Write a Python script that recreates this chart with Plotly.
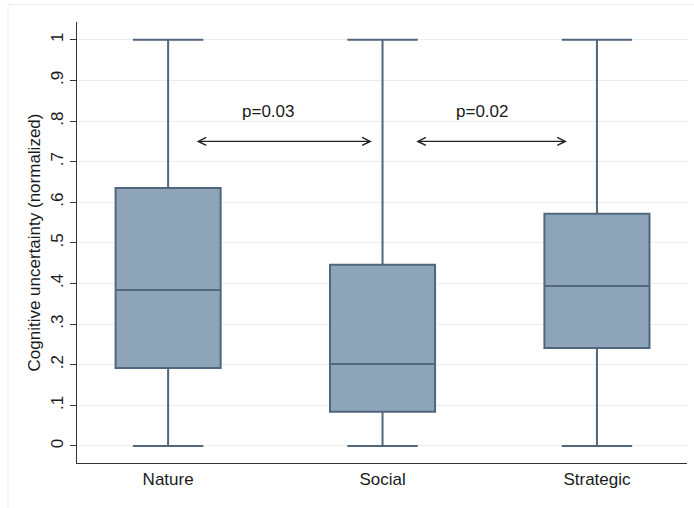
import plotly.graph_objects as go

# Box-plot summary statistics per task type
categories = ["Nature", "Social", "Strategic"]
lower_whisker = [0.0, 0.0, 0.0]
q1 = [0.192, 0.084, 0.241]
median = [0.384, 0.202, 0.394]
q3 = [0.635, 0.446, 0.572]
upper_whisker = [1.0, 1.0, 1.0]

# Pairwise comparisons: (from category index, to category index, label)
comparisons = [(0, 1, "p=0.03"), (1, 2, "p=0.02")]
comparison_level = 0.75
label_level = 0.823

y_ticks = [0, 0.1, 0.2, 0.3, 0.4, 0.5, 0.6, 0.7, 0.8, 0.9, 1.0]
y_ticktext = ["0", ".1", ".2", ".3", ".4", ".5", ".6", ".7", ".8", ".9", "1"]

FONT = "Liberation Sans, Arial, Helvetica, sans-serif"
LINE = "#51667b"
FILL = "#8ea4b9"
TXT = "#1a1a1a"

xpos = list(range(len(categories)))

fig = go.Figure()
fig.add_trace(go.Box(
    x=xpos,
    q1=q1, median=median, q3=q3,
    lowerfence=lower_whisker, upperfence=upper_whisker,
    width=0.49,
    whiskerwidth=0.67,
    fillcolor=FILL,
    line=dict(color=LINE, width=2),
    boxpoints=False,
    showlegend=False,
    hoverinfo="skip",
))

for i, j, label in comparisons:
    x0 = xpos[i] + 0.126
    x1 = xpos[j] - 0.05
    if i > 0:
        x0 = xpos[i] + 0.15
        x1 = xpos[j] - 0.14
    fig.add_annotation(
        x=x1, y=comparison_level, ax=x0, ay=comparison_level,
        xref="x", yref="y", axref="x", ayref="y",
        text="", showarrow=True,
        arrowhead=5, startarrowhead=5, arrowside="end+start",
        arrowsize=1.2, startarrowsize=1.2,
        arrowwidth=1.3, arrowcolor="#222222",
    )
    fig.add_annotation(
        x=(xpos[i] + xpos[j]) / 2 - 0.034, y=label_level,
        xref="x", yref="y", text=label, showarrow=False,
        font=dict(family=FONT, size=17, color=TXT),
    )

fig.update_xaxes(
    range=[-0.425, 2.42],
    tickvals=xpos, ticktext=categories,
    showgrid=False, zeroline=False,
    showline=True, linecolor="#333333", linewidth=1.3,
    ticks="", ticklen=0,
    tickfont=dict(family=FONT, size=17, color=TXT),
)
fig.update_yaxes(
    range=[-0.042, 1.044],
    tickvals=y_ticks, ticktext=y_ticktext,
    tickangle=-90,
    showgrid=True, gridcolor="#ececec", gridwidth=1,
    zeroline=False,
    showline=True, linecolor="#333333", linewidth=1.3,
    ticks="outside", ticklen=6, tickcolor="#333333", tickwidth=1.2,
    tickfont=dict(family=FONT, size=17, color=TXT),
    title=dict(text="Cognitive uncertainty (normalized)",
               font=dict(family=FONT, size=17, color=TXT), standoff=3),
)

fig.add_shape(type="rect", xref="paper", yref="paper",
              x0=-0.113, x1=1.1, y0=-0.2, y1=1.04,
              line=dict(color="#eeeeee", width=1), layer="below")

fig.update_layout(
    width=694, height=508,
    margin=dict(l=77, r=7, t=22, b=45),
    plot_bgcolor="white", paper_bgcolor="white",
    font=dict(family=FONT, color=TXT),
)

fig.write_html("out.html")
